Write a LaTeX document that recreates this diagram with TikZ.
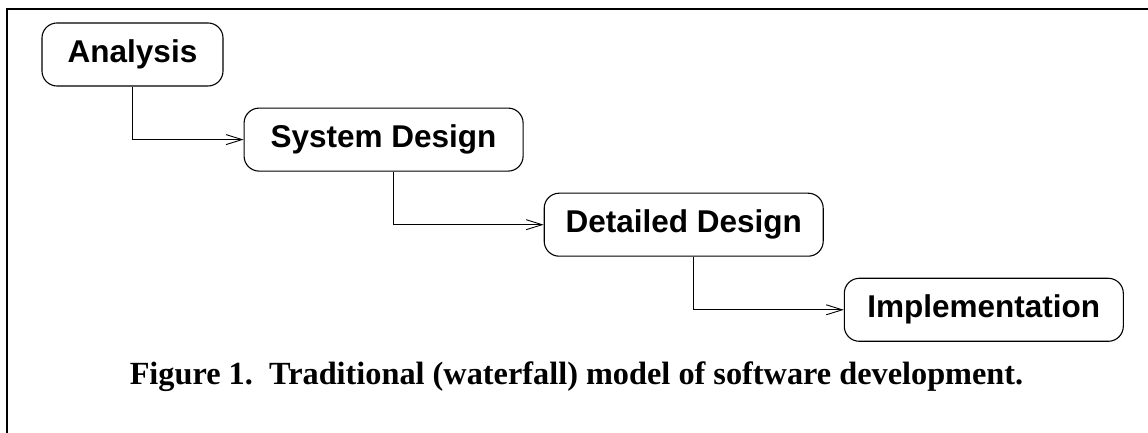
\documentclass[tikz,border=0pt]{standalone}
\usepackage{fontspec}
\setmainfont{Liberation Serif}
\setsansfont{Liberation Sans}
\usepackage{tikz}
\usetikzlibrary{positioning, arrows.meta}

\begin{document}
\begin{tikzpicture}[x=1pt, y=1pt, >={Straight Barb[length=16pt, width=10pt]},
    node distance=21pt and 20pt,
    stage/.style={draw, line width=1.1pt, rounded corners=15pt, inner sep=0pt,
                  minimum height=63pt, minimum width=279pt, align=center,
                  font=\sffamily\bfseries\fontsize{31.5}{36}\selectfont},
    flow/.style={->, line width=0.9pt}]
    \useasboundingbox (0,0) rectangle (1148,433);
    % frame
    \draw[line width=2pt] (7,0) -- (7,424) -- (1148,424);
    \node[stage, minimum width=181pt] (analysis) at (132.5,378.5) {Analysis};
    \node[stage, below right=of analysis] (sysdes) {System Design};
    \node[stage, below right=of sysdes] (detdes) {Detailed Design};
    \node[stage, below right=of detdes] (impl) {Implementation};
    \draw[flow] (analysis.south) |- (sysdes.west);
    \draw[flow] ([xshift=10pt]sysdes.south) |- (detdes.west);
    \draw[flow] ([xshift=10pt]detdes.south) |- (impl.west);
    \node[anchor=base, font=\bfseries\fontsize{32.3}{38}\selectfont] (caption) at (576.5,48)
        {Figure 1.\ \ Traditional (waterfall) model of software development.};
\end{tikzpicture}
\end{document}
